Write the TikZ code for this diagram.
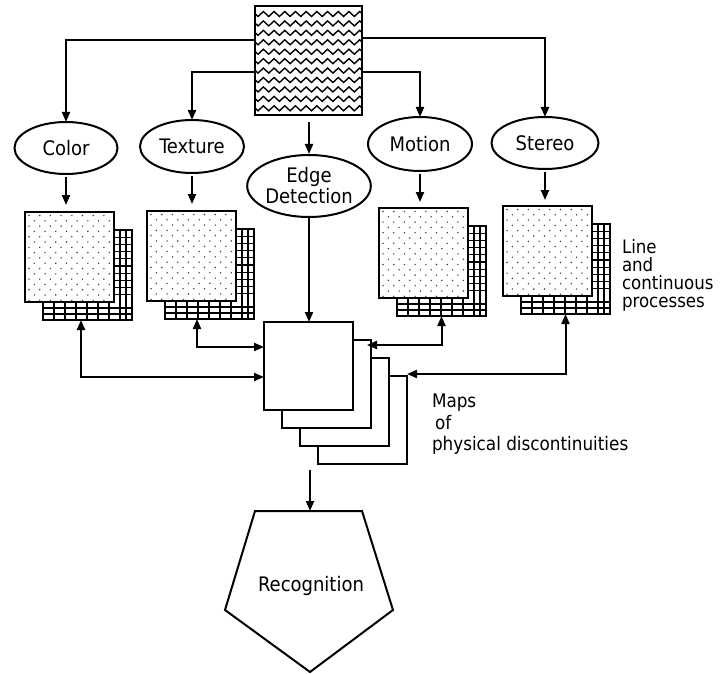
\documentclass[tikz,border=0pt]{standalone}
\usepackage{fontspec}
\setmainfont{DejaVu Sans}
\newfontfamily\condfont{DejaVu Sans Condensed}
\usetikzlibrary{arrows.meta,decorations.pathmorphing,calc,shapes.geometric}

\tikzset{
  arr/.style={-{Triangle[length=10pt,width=8pt]}, line width=2pt},
  biarr/.style={{Triangle[length=10pt,width=8pt]}-{Triangle[length=10pt,width=8pt]}, line width=2pt},
  sq/.style={draw, fill=white, line width=2pt, minimum width=89pt, minimum height=90pt, inner sep=0pt, outer sep=0pt, anchor=north west},
  mapsq/.style={draw, fill=white, line width=2pt, minimum width=89pt, minimum height=88pt, inner sep=0pt, outer sep=0pt, anchor=north west},
  ell/.style={ellipse, draw, line width=2pt, inner sep=0pt, outer sep=0pt, align=center, font=\condfont\fontsize{20}{21}\selectfont},
  gridl/.style={line width=1.2pt},
  dotc/.style={fill=black!75},
  zz/.style={line width=1.4pt, decorate, decoration={zigzag, segment length=10.7pt, amplitude=2.5pt}},
  lbl/.style={inner sep=0pt, outer sep=0pt, align=left, anchor=north west}
}

\newcommand\mkdots[2]{%
  \foreach \ri in {0,...,16}{%
    \pgfmathsetmacro\yy{#2+3.5+5.3*\ri}%
    \pgfmathsetmacro\xo{mod(\ri,2)*5.35}%
    \foreach \ci in {0,...,7}{%
      \pgfmathsetmacro\xx{#1+4+\xo+10.7*\ci}%
      \fill[dotc] (\xx,\yy) circle[radius=0.8pt];
    }%
  }%
}

\newcommand\mystack[3]{%
  \node[sq] (#1B) at ({#2+18},{#3+18}) {};
  \begin{scope}
    \clip ({#2+18},{#3+18}) rectangle ({#2+107},{#3+108});
    \foreach \gx in {29,40,51,62,73,84,95,101}
      \draw[gridl] ({#2+\gx},{#3+18}) -- ({#2+\gx},{#3+108});
    \foreach \gy in {25.2,32.4,39.6,46.8,54,61.2,68.4,75.6,82.8,96,102}
      \draw[gridl] ({#2+18},{#3+\gy}) -- ({#2+107},{#3+\gy});
  \end{scope}
  \draw[line width=2pt] ({#2+18},{#3+18}) rectangle ({#2+107},{#3+108});
  \node[sq] (#1F) at (#2,#3) {};
  \mkdots{#2}{#3}
  \draw[line width=2pt] (#1F.north west) rectangle (#1F.south east);
}

\begin{document}
\begin{tikzpicture}[x=1pt,y=-1pt]
\useasboundingbox[fill=white] (0,0) rectangle (723,674);

% top image
\node[draw=none, minimum width=107pt, minimum height=109pt, inner sep=0pt, outer sep=0pt, anchor=north west] (img) at (255,6) {};
\begin{scope}
  \clip (255,6) rectangle (362,115);
  \foreach \k in {0,...,10}
    \draw[zz] (250,{14+9.43*\k}) -- (372,{14+9.43*\k});
\end{scope}
\draw[line width=2pt] (img.north west) rectangle (img.south east);

% ellipses
\node[ell, minimum width=103pt, minimum height=52pt] (color) at (66,148) {Color};
\node[ell, minimum width=104pt, minimum height=53pt] (texture) at (192,146.5) {Texture};
\node[ell, minimum width=120pt, minimum height=62pt] (edge) at (309,186) {Edge\\Detection};
\node[ell, minimum width=104pt, minimum height=54pt] (motion) at (420,144) {Motion};
\node[ell, minimum width=107pt, minimum height=52pt] (stereo) at (545,143) {Stereo};

% arrows from image
\draw[arr] ([yshift=20.5pt]img.west) -| (color.north);
\draw[arr] ([yshift=-12pt]img.west) -| (texture.north);
\draw[arr] ([yshift=-11.5pt]img.east) -| (motion.north);
\draw[arr] ([yshift=22.5pt]img.east) -| (stereo.north);
\draw[arr, shorten <=7pt, shorten >=1pt] (img.south -| edge.north) -- (edge.north);

% stacks
\mystack{color}{25}{212}
\mystack{texture}{147}{211}
\mystack{motion}{379}{208}
\mystack{stereo}{503}{206}

\draw[arr, shorten <=3pt, shorten >=7pt] (color.south) -- (color.south |- colorF.north);
\draw[arr, shorten <=3pt, shorten >=7pt] (texture.south) -- (texture.south |- textureF.north);
\draw[arr, shorten <=3pt, shorten >=6pt] (motion.south) -- (motion.south |- motionF.north);
\draw[arr, shorten <=3pt, shorten >=6pt] (stereo.south) -- (stereo.south |- stereoF.north);

% maps stack
\node[mapsq] (map4) at (318,376) {};
\node[mapsq] (map3) at (300,358) {};
\node[mapsq] (map2) at (282,340) {};
\node[mapsq] (map1) at (264,322) {};

\draw[arr] (edge.south) -- (edge.south |- map1.north);

\draw[biarr] ([xshift=-6.5pt]colorB.south) |- ([yshift=-11pt]map1.west);
\draw[biarr] ([xshift=-12.5pt]textureB.south) |- ([yshift=19pt]map1.west);
\draw[biarr, shorten >=-4pt] (motionB.south) |- ([yshift=39pt]map2.east);
\draw[biarr] (stereoB.south) |- ([yshift=2pt]map4.north east);

% labels
\node[lbl, font=\condfont\fontsize{18.5}{18}\selectfont] (linelbl) at (622,239) {Line\\and\\continuous\\processes};
\node[lbl, font=\condfont\fontsize{18.7}{21.5}\selectfont] (mapslbl) at (432,394) {Maps\\\hspace{3pt}of\\physical discontinuities};

% recognition pentagon
\coordinate (p1) at (255,511);
\coordinate (p2) at (362,511);
\coordinate (p3) at (393,610);
\coordinate (p4) at (310,672);
\coordinate (p5) at (225,610);
\draw[line width=2pt, line join=miter] (p1) -- (p2) -- (p3) -- (p4) -- (p5) -- cycle;
\node[font=\condfont\fontsize{20}{22}\selectfont, inner sep=0pt] (recog) at (311,586) {Recognition};
\coordinate (mapsout) at (310,470);
\coordinate (rtop) at (310,511);
\draw[arr] (mapsout) -- (rtop);
\end{tikzpicture}
\end{document}
